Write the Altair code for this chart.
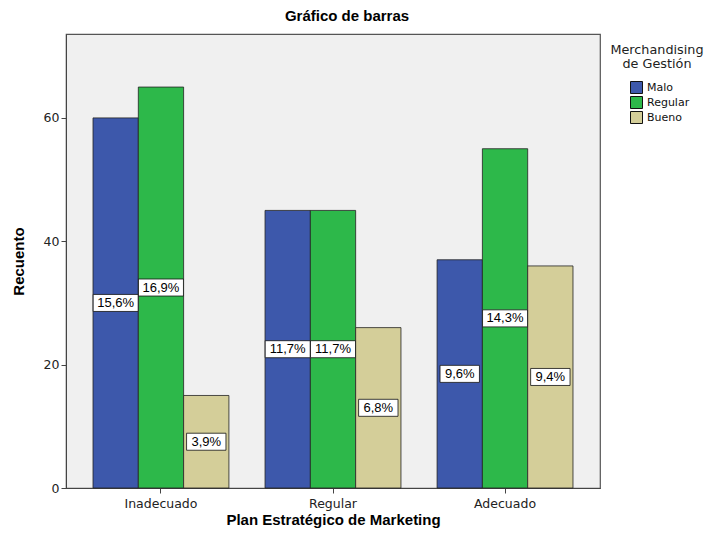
import altair as alt
import pandas as pd

plans = ["Inadecuado", "Regular", "Adecuado"]
levels = ["Malo", "Regular", "Bueno"]
colors = ["#3D58AB", "#2DB84A", "#D4CE99"]
counts = {
    "Malo": [60, 45, 37],
    "Regular": [65, 45, 55],
    "Bueno": [15, 26, 36],
}
pct_labels = {
    "Malo": ["15,6%", "11,7%", "9,6%"],
    "Regular": ["16,9%", "11,7%", "14,3%"],
    "Bueno": ["3,9%", "6,8%", "9,4%"],
}

rows = []
for lv in levels:
    for i, p in enumerate(plans):
        rows.append({"plan": p, "nivel": lv, "count": counts[lv][i],
                     "label": pct_labels[lv][i]})
df = pd.DataFrame(rows)

FONT = "Liberation Sans"
WIDE = "DejaVu Sans"
YMAX = 73.6
BOXH = 1.38

x_enc = alt.X("plan:N", sort=plans,
              scale=alt.Scale(paddingInner=0.21, paddingOuter=0.157),
              axis=alt.Axis(title="Plan Estratégico de Marketing", labelAngle=0,
                            labelFont=WIDE, labelFontSize=12.5, labelColor="#222",
                            labelPadding=4, tickSize=5, tickColor="#444",
                            domainColor="#444", titleFont=FONT, titleFontSize=15,
                            titleFontWeight="bold", titleColor="#000",
                            titlePadding=3))
xoff = alt.XOffset("nivel:N", sort=levels,
                   scale=alt.Scale(paddingInner=0, paddingOuter=0))

base = alt.Chart(df).encode(x=x_enc, xOffset=xoff)

bars = base.mark_bar(stroke="#222", strokeWidth=0.8).encode(
    y=alt.Y("count:Q", scale=alt.Scale(domain=[0, YMAX], nice=False),
            axis=alt.Axis(title="Recuento", values=[0, 20, 40, 60], grid=False,
                          labelFont=WIDE, labelFontSize=12.5, labelColor="#222",
                          tickSize=5, tickColor="#444", domainColor="#444",
                          titleFont=FONT, titleFontSize=15, titleFontWeight="bold",
                          titleColor="#000", titlePadding=17)),
    color=alt.Color("nivel:N", sort=levels,
                    scale=alt.Scale(domain=levels, range=colors),
                    legend=alt.Legend(title=None, orient="none", legendX=564,
                                      legendY=47, symbolType="square",
                                      symbolSize=144, symbolStrokeColor="#111",
                                      symbolStrokeWidth=1, symbolOpacity=1,
                                      labelFont=WIDE, labelFontSize=11,
                                      labelColor="#111", rowPadding=-2.5,
                                      labelOffset=4, padding=0)),
)

boxes = base.transform_calculate(
    lo="datum.count/2 - %f" % BOXH,
    hi="datum.count/2 + %f" % BOXH,
    w="17 + 5.6*length(datum.label)",
).mark_bar(fill="white", stroke="#111", strokeWidth=0.8).encode(
    y="lo:Q", y2="hi:Q", size=alt.Size("w:Q", scale=None, legend=None)
)

texts = base.transform_calculate(mid="datum.count/2").mark_text(
    font=FONT, fontSize=13, color="#000", baseline="middle"
).encode(y="mid:Q", text="label:N")

legend_title = alt.Chart(pd.DataFrame({"t": ["Merchandising", "de Gestión"],
                                       "yy": [15.5, 29.5]})).mark_text(
    font=WIDE, fontSize=12.8, color="#222", align="center", baseline="middle"
).encode(x=alt.value(591), y=alt.Y("yy:Q", scale=None), text="t:N")

chart = alt.layer(bars, boxes, texts, legend_title).properties(
    width=534, height=454,
    title=alt.TitleParams("Gráfico de barras", font=FONT, fontSize=15,
                          fontWeight="bold", color="#000", dx=14, offset=10),
    autosize=alt.AutoSizeParams(type="none"),
    padding={"left": 58, "top": 26, "right": 107, "bottom": 41},
).configure_view(fill="#F0F0F0", stroke="#555", strokeWidth=1.2)

chart.save("out.html", embed_options={"renderer": "svg", "actions": False})
